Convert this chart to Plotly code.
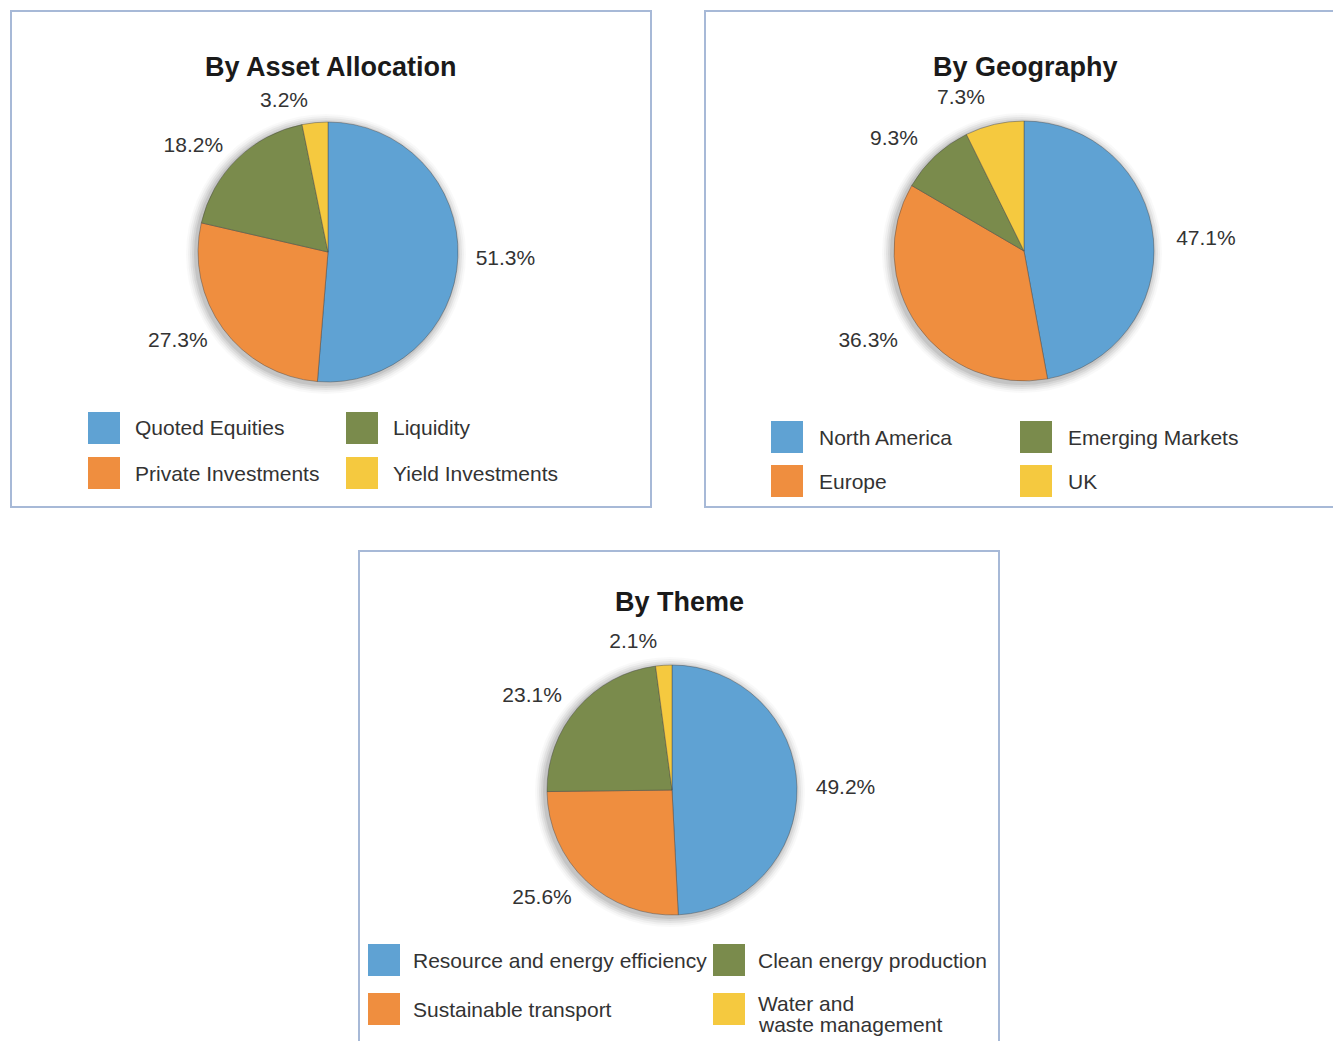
import plotly.graph_objects as go

W, H = 1333, 1041

# ---- data ----
asset_labels = ["Quoted Equities", "Private Investments", "Liquidity", "Yield Investments"]
asset_values = [51.3, 27.3, 18.2, 3.2]

geo_labels = ["North America", "Europe", "Emerging Markets", "UK"]
geo_values = [47.1, 36.3, 9.3, 7.3]

theme_labels = ["Resource and energy efficiency", "Sustainable transport",
                "Clean energy production", "Water and<br>waste management"]
theme_values = [49.2, 25.6, 23.1, 2.1]

titles = ["By Asset Allocation", "By Geography", "By Theme"]

colors = ["#5FA2D3", "#EF8E3F", "#7A8B4C", "#F5C93F"]
border = "#A7B9D7"
text_col = "#333333"
FONT = "Liberation Sans, Arial, sans-serif"

def px(x):
    return x / W

def py(y):
    return 1 - y / H

fig = go.Figure()

# panel layout (pixel geometry)
panels = [
    dict(labels=asset_labels, values=asset_values, title=titles[0],
         box=(11, 11, 651, 507), center=(328, 252), r=130, label_gap=12, title_xy=(331, 67),
         leg_cols=(88, 346), leg_rows=(428, 473), text_dx=45),
    dict(labels=geo_labels, values=geo_values, title=titles[1],
         box=(705, 11, 1345, 507), center=(1024, 251), r=130, label_gap=17, title_xy=(1025, 67),
         leg_cols=(771, 1020), leg_rows=(437, 481), text_dx=46),
    dict(labels=theme_labels, values=theme_values, title=titles[2],
         box=(359, 551, 999, 1050), center=(672, 790), r=125, label_gap=13, title_xy=(679, 602),
         leg_cols=(368, 713), leg_rows=(960, 1009), text_dx=43),
]

shapes = []
annotations = []

for p in panels:
    x0, y0, x1, y1 = p["box"]
    shapes.append(dict(type="rect", xref="paper", yref="paper",
                       x0=px(x0), x1=px(x1), y0=py(y0), y1=py(y1),
                       line=dict(color=border, width=2), fillcolor="rgba(0,0,0,0)",
                       layer="below"))
    cx, cy = p["center"]
    r = p["r"]
    # soft shadow behind the pie
    for k, a in [(10, 0.025), (8, 0.035), (6, 0.05), (4, 0.06), (2, 0.08)]:
        shapes.append(dict(type="circle", xref="paper", yref="paper",
                           x0=px(cx - r - k - 2), x1=px(cx + r + k - 2),
                           y0=py(cy + r + k + 2), y1=py(cy - r - k + 2),
                           line=dict(width=0), fillcolor=f"rgba(0,0,0,{a})",
                           layer="below"))
    plain_labels = [l.replace("<br>", " ") for l in p["labels"]]
    # transparent, slightly larger pie that only carries the percentage labels
    rg = r + p["label_gap"]
    fig.add_trace(go.Pie(
        labels=plain_labels, values=p["values"],
        sort=False, direction="clockwise", rotation=0,
        marker=dict(colors=["rgba(0,0,0,0)"] * 4, line=dict(width=0)),
        textposition="outside",
        texttemplate="%{value:.1f}%",
        textfont=dict(family=FONT, size=21, color=text_col),
        domain=dict(x=[px(cx - rg), px(cx + rg)], y=[py(cy + rg), py(cy - rg)]),
        showlegend=False, hoverinfo="skip",
    ))
    fig.add_trace(go.Pie(
        labels=plain_labels, values=p["values"],
        sort=False, direction="clockwise", rotation=0,
        marker=dict(colors=colors, line=dict(color="rgba(70,70,70,0.55)", width=0.8)),
        textinfo="none",
        domain=dict(x=[px(cx - r), px(cx + r)], y=[py(cy + r), py(cy - r)]),
        showlegend=False, hoverinfo="label+value",
    ))
    tx, ty = p["title_xy"]
    annotations.append(dict(text="<b>" + p["title"] + "</b>", x=px(tx), y=py(ty),
                            xref="paper", yref="paper", showarrow=False,
                            xanchor="center", yanchor="middle",
                            font=dict(family=FONT, size=27, color="#1a1a1a")))
    # custom legend: column-major (col0: items 0,1 ; col1: items 2,3)
    for i, lab in enumerate(p["labels"]):
        col = i // 2
        row = i % 2
        lx = p["leg_cols"][col]
        ly = p["leg_rows"][row]
        shapes.append(dict(type="rect", xref="paper", yref="paper",
                           x0=px(lx), x1=px(lx + 32), y0=py(ly + 16), y1=py(ly - 16),
                           line=dict(width=0), fillcolor=colors[i]))
        lines = lab.split("<br>")
        if len(lines) == 1:
            offsets = [0]
        else:
            offsets = [-6 + 21 * k for k in range(len(lines))]
        for line, off in zip(lines, offsets):
            annotations.append(dict(text=line, x=px(lx + p["text_dx"]), y=py(ly + off),
                                    xref="paper", yref="paper", showarrow=False,
                                    xanchor="left", yanchor="middle", align="left",
                                    font=dict(family=FONT, size=21, color=text_col)))

fig.update_layout(
    width=W, height=H,
    margin=dict(l=0, r=0, t=0, b=0),
    paper_bgcolor="white", plot_bgcolor="white",
    shapes=shapes, annotations=annotations,
)

fig.write_html("out.html")
